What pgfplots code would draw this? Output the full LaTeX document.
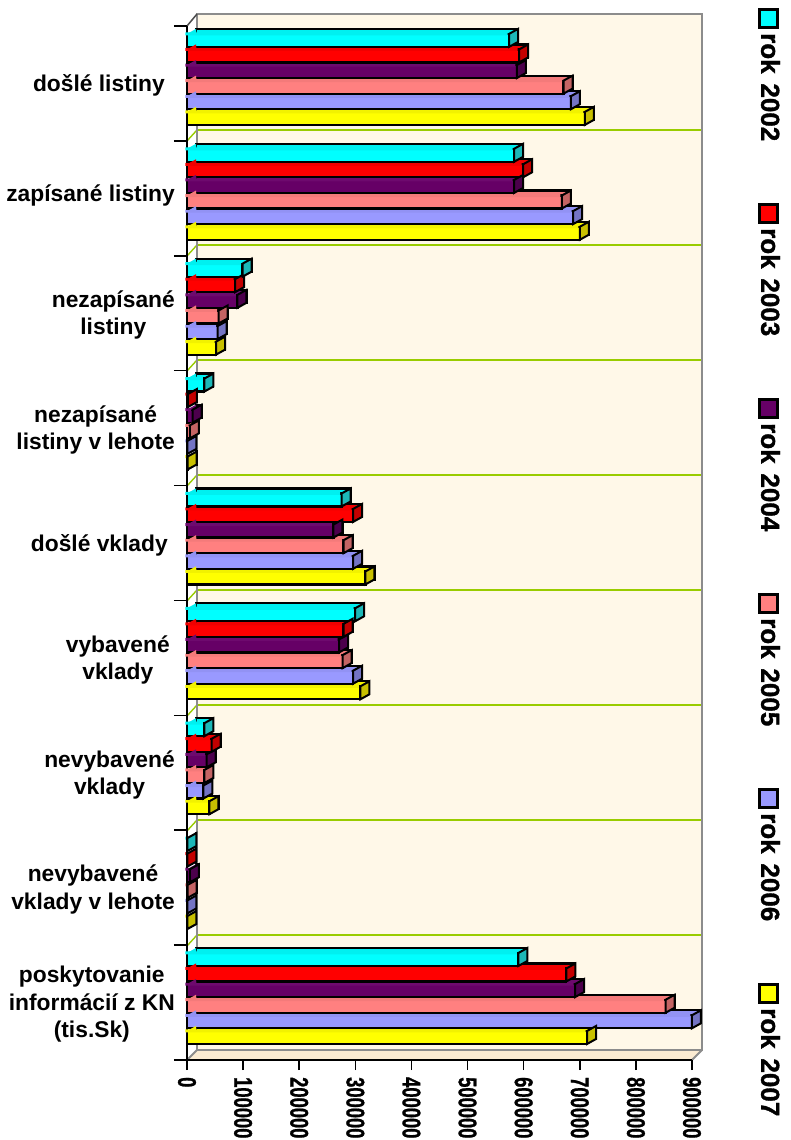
\documentclass[border=0pt]{standalone}
\usepackage{fontspec}
\setmainfont{Liberation Sans}
\newfontface\heavyface{Liberation Sans Bold}[FakeBold=1.2]
\usepackage{pgfplots}
\usepackage{pgfplotstable}
\pgfplotsset{compat=1.18}
\definecolor{cyanF}{HTML}{00FFFF}\definecolor{cyanT}{HTML}{00F0F0}\definecolor{cyanC}{HTML}{1CB8B8}
\definecolor{redF}{HTML}{FF0000}\definecolor{redT}{HTML}{F00000}\definecolor{redC}{HTML}{C40000}
\definecolor{purF}{HTML}{660066}\definecolor{purT}{HTML}{6E0A6E}\definecolor{purC}{HTML}{4C004C}
\definecolor{pinF}{HTML}{FF8080}\definecolor{pinT}{HTML}{F47A7A}\definecolor{pinC}{HTML}{C46464}
\definecolor{bluF}{HTML}{9999FF}\definecolor{bluT}{HTML}{9292F4}\definecolor{bluC}{HTML}{7474C4}
\definecolor{yelF}{HTML}{FFFF00}\definecolor{yelT}{HTML}{F2F200}\definecolor{yelC}{HTML}{C8C000}
\definecolor{wall}{HTML}{FFF8E8}\definecolor{floorc}{HTML}{FBEBD2}\definecolor{wallg}{HTML}{8C8C8C}\definecolor{gridg}{HTML}{99CC00}
\pgfdeclareplotmark{capface}{%
  \pgfpathmoveto{\pgfqpoint{0pt}{-6.5pt}}%
  \pgfpathlineto{\pgfqpoint{9pt}{-1.5pt}}%
  \pgfpathlineto{\pgfqpoint{9pt}{11.5pt}}%
  \pgfpathlineto{\pgfqpoint{0pt}{6.5pt}}%
  \pgfpathclose\pgfusepathqfillstroke}
\pgfdeclareplotmark{leftface}{%
  \pgfpathmoveto{\pgfqpoint{0pt}{6.5pt}}%
  \pgfpathlineto{\pgfqpoint{9pt}{11.5pt}}%
  \pgfpathlineto{\pgfqpoint{9.5pt}{6.5pt}}%
  \pgfpathclose\pgfusepathqfill}
\pgfplotstableread{
k   y2002  y2003  y2004  y2005  y2006  y2007
8   574000 592000 588000 671000 684000 709000
7   583000 599000 583000 668000 688000 700000
6    99000  85600  90000  56500  54700  51700
5    31000   1500  10000   5300    600   1000
4   275700 296000 261000 279000 296000 318000
3   299500 279000 271000 277500 296000 309000
2    30900  44000  35000  31000  29000  40000
1      600    700   5300   1200    500    500
0   590600 676000 691600 853000 899700 713000
}\datatable
\newcommand{\series}[5]{%
  \addplot[xbar, bar width=13pt, bar shift=0pt, xshift=9pt, yshift=5pt, fill=#4, draw=black, line width=2.2pt]
    table[x=#1, y expr=\thisrow{k}+#2] {\datatable};
  \addplot[only marks, mark=leftface, mark options={fill=#4, draw=none}]
    table[x expr=0, y expr=\thisrow{k}+#2] {\datatable};
  \addplot[only marks, mark=capface, mark options={fill=#5, draw=black, line width=2pt}]
    table[x=#1, y expr=\thisrow{k}+#2] {\datatable};
  \addplot[xbar, bar width=13pt, bar shift=0pt, fill=#3, draw=black, line width=2.2pt]
    table[x=#1, y expr=\thisrow{k}+#2] {\datatable};
  % the edge between the top face and the front face is not outlined
  \addplot[xbar, bar width=3pt, bar shift=0pt, xshift=-1.5pt, yshift=6.5pt, fill=#4, draw=none]
    table[x=#1, y expr=\thisrow{k}+#2] {\datatable};
}
\newcommand{\sq}[1]{\scalebox{0.72}[1]{#1}}
\newcommand{\legitem}[3]{%
  \draw[black, line width=2.5pt, fill=#2] (759.5,#1+1.5) rectangle (777.5,#1+19.5);
  \node[rotate=-90, anchor=west, inner sep=0pt, font=\fontsize{26}{26}\heavyface] at (770.5,#1+25) {rok\hspace{0.1em} #3};
}
\begin{document}
\begin{tikzpicture}
\path[use as bounding box] (0,0) rectangle (791pt,1140pt);
\begin{scope}[x=1pt,y=-1pt,yshift=1140pt]
  % walls
  \fill[white] (187,26) -- (197,14) -- (197,1050) -- (187,1060) -- cycle;
  \fill[floorc] (187,1060) -- (197,1050) -- (702,1050) -- (692,1060) -- cycle;
  \fill[wall] (197,14) rectangle (702,1050);
  \foreach \t in {130,245,360,475,590,705,820,935} {
    \draw[gridg, line width=1.8pt] (197,\t) -- (702,\t);
    \draw[gridg, line width=1.4pt] (187,\t+11) -- (197,\t);
  }
  \draw[wallg, line width=2.4pt] (197,1050) -- (197,14) -- (702,14) -- (702,1050) -- cycle;
  \draw[wallg, line width=2pt] (187,1060) -- (197,1050) (692,1060) -- (702,1050);
  \draw[black!70, line width=1.5pt] (187,26) -- (197,14);
  \legitem{8}{cyanF}{2002}
  \legitem{203}{redF}{2003}
  \legitem{398}{purF}{2004}
  \legitem{593}{pinF}{2005}
  \legitem{788}{bluF}{2006}
  \legitem{983}{yelF}{2007}
\end{scope}
\begin{axis}[
  at={(187pt,80pt)}, anchor=south west,
  scale only axis, width=505pt, height=1034pt,
  xmin=0, xmax=900000, ymin=0, ymax=9,
  clip=false, scaled ticks=false,
  axis x line*=bottom, axis y line*=left,
  axis line style={line width=2pt, black, -},
  tick align=outside, xtick pos=bottom, ytick pos=left,
  major tick length=10pt, minor tick length=13pt,
  xtick={0,100000,200000,300000,400000,500000,600000,700000,800000,900000},
  xticklabels={\sq{0},\sq{100000},\sq{200000},\sq{300000},\sq{400000},\sq{500000},\sq{600000},\sq{700000},\sq{800000},\sq{900000}},
  x tick style={line width=1.6pt, black},
  minor y tick style={line width=1.6pt, black},
  major y tick style={draw=none},
  ytick={0.5,1.5,2.5,3.5,4.5,5.5,6.5,7.5,8.5},
  minor ytick={0,1,2,3,4,5,6,7,8,9},
  yticklabels={{poskytovanie\\informácií z KN\\(tis.Sk)},{nevybavené\\vklady v lehote},{nevybavené\\vklady},{vybavené\hspace*{5pt}\\vklady\hspace*{5pt}},{došlé vklady\hspace*{7pt}},{nezapísané\\listiny v lehote},{nezapísané\\listiny},{\raisebox{15pt}{zapísané listiny}},{došlé listiny\hspace*{10pt}}},
  xticklabel style={rotate=-90, anchor=west, inner sep=0pt, xshift=7pt, yshift=0pt, font=\fontsize{25.5}{25.5}\heavyface},
  yticklabel style={anchor=east, align=center, inner sep=0pt, xshift=-2pt, yshift=-2pt, font=\fontsize{22.8}{27.5}\selectfont\bfseries},
]
\series{y2007}{0.196}{yelF}{yelT}{yelC}
\series{y2006}{0.332}{bluF}{bluT}{bluC}
\series{y2005}{0.468}{pinF}{pinT}{pinC}
\series{y2004}{0.604}{purF}{purT}{purC}
\series{y2003}{0.740}{redF}{redT}{redC}
\series{y2002}{0.875}{cyanF}{cyanT}{cyanC}
\end{axis}
\end{tikzpicture}
\end{document}
